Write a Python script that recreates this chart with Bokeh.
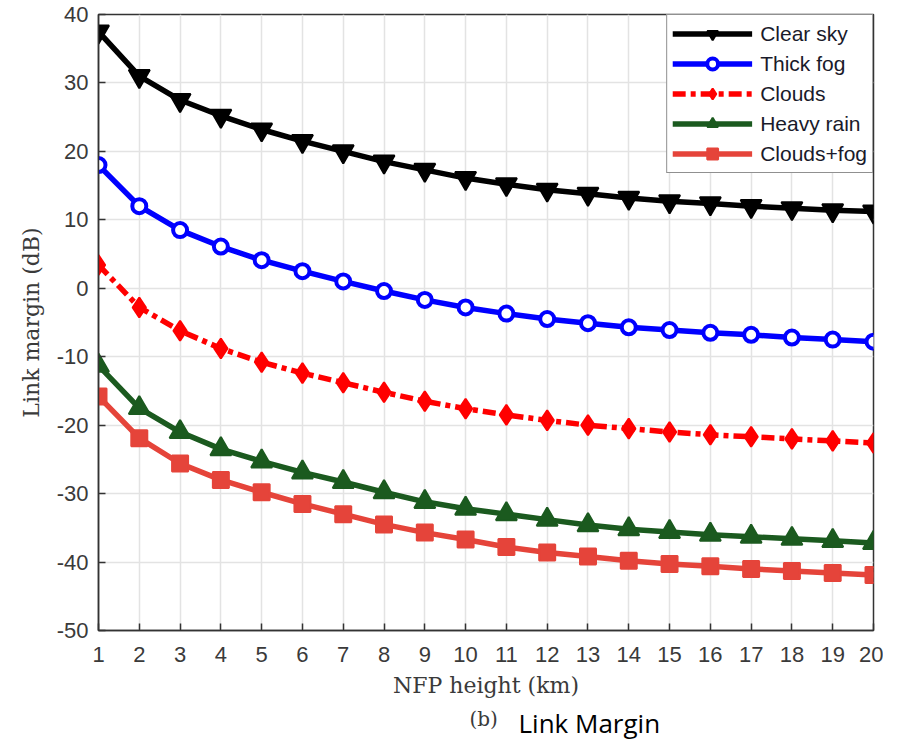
from bokeh.plotting import figure
from bokeh.models import Range1d, FixedTicker, Legend, LegendItem, Label
from bokeh.layouts import column
from bokeh.embed import file_html
from bokeh.resources import INLINE

heights = list(range(1, 21))
clear_sky = [37.5, 31.0, 27.5, 25.2, 23.2, 21.5, 20.0, 18.5, 17.3, 16.1, 15.2, 14.4, 13.8, 13.2, 12.7, 12.4, 12.0, 11.7, 11.4, 11.2]
thick_fog = [18.0, 12.0, 8.5, 6.1, 4.1, 2.5, 1.0, -0.4, -1.7, -2.8, -3.7, -4.5, -5.1, -5.7, -6.1, -6.5, -6.8, -7.2, -7.5, -7.8]
clouds = [3.4, -2.8, -6.2, -8.8, -10.8, -12.4, -13.8, -15.2, -16.5, -17.6, -18.5, -19.3, -20.0, -20.5, -21.0, -21.4, -21.7, -22.0, -22.3, -22.6]
heavy_rain = [-11.3, -17.5, -21.0, -23.5, -25.3, -26.9, -28.3, -29.8, -31.2, -32.2, -33.0, -33.8, -34.6, -35.2, -35.6, -36.0, -36.3, -36.6, -36.9, -37.2]
clouds_fog = [-15.8, -21.9, -25.6, -28.0, -29.8, -31.5, -33.0, -34.5, -35.7, -36.7, -37.8, -38.6, -39.2, -39.8, -40.3, -40.6, -41.0, -41.3, -41.6, -41.9]
y_ticks = [-50, -40, -30, -20, -10, 0, 10, 20, 30, 40]
caption_tag = "(b)"
caption_text = "Link Margin"

tick_font = "Liberation Sans"
serif_font = "DejaVu Serif"
tick_color = "#3a3a3a"

p = figure(width=883, height=710, output_backend="svg", toolbar_location=None,
           x_range=Range1d(1, 20), y_range=Range1d(-50, 40),
           min_border_left=98, min_border_right=10, min_border_top=14, min_border_bottom=80,
           x_axis_label="NFP height (km)", y_axis_label="Link margin (dB)")
p.outline_line_color = "#333333"
p.outline_line_width = 1.5
p.background_fill_color = "white"
p.border_fill_color = "white"

p.xaxis.ticker = FixedTicker(ticks=heights)
p.yaxis.ticker = FixedTicker(ticks=y_ticks)
p.yaxis.major_label_overrides = {t: str(t) for t in y_ticks}
for ax in [p.xaxis[0], p.yaxis[0]]:
    ax.major_tick_in = 7
    ax.major_tick_out = 0
    ax.minor_tick_in = 0
    ax.minor_tick_out = 0
    ax.axis_line_color = "#333333"
    ax.axis_line_width = 1.5
    ax.major_tick_line_color = "#333333"
    ax.major_tick_line_width = 1.5
    ax.major_label_text_font = tick_font
    ax.major_label_text_font_size = "22px"
    ax.major_label_text_color = tick_color
    ax.axis_label_text_font = serif_font
    ax.axis_label_text_font_size = "22px"
    ax.axis_label_text_font_style = "normal"
    ax.axis_label_text_color = "#3a3a3a"
p.xaxis.major_label_standoff = 16
p.xaxis.axis_label_standoff = 8
p.yaxis.major_label_standoff = 10
p.yaxis.axis_label_standoff = 10

p.xgrid.grid_line_color = "#e3e3e3"
p.ygrid.grid_line_color = "#e3e3e3"
p.xgrid.grid_line_width = 1.5
p.ygrid.grid_line_width = 1.5

items = []

l1 = p.line(heights, clear_sky, line_color="black", line_width=5.5)
m1 = p.scatter(heights, clear_sky, marker="inverted_triangle", size=21, line_color="black", line_width=2, fill_color="black")
items.append(LegendItem(label="Clear sky", renderers=[l1, m1]))

l2 = p.line(heights, thick_fog, line_color="#0000ff", line_width=5.5)
m2 = p.scatter(heights, thick_fog, marker="circle", size=14, line_color="#0000ff", line_width=4, fill_color="white")
items.append(LegendItem(label="Thick fog", renderers=[l2, m2]))

l3 = p.line(heights, clouds, line_color="#ff0000", line_width=5.5, line_dash="13 5 5 5")
m3 = p.scatter(heights, clouds, marker="diamond", size=20, line_color="#ff0000", line_width=2, fill_color="#ff0000")
items.append(LegendItem(label="Clouds", renderers=[l3, m3]))

l4 = p.line(heights, heavy_rain, line_color="#1b5a1f", line_width=5.5)
m4 = p.scatter(heights, heavy_rain, marker="triangle", size=21, line_color="#1b5a1f", line_width=2, fill_color="#1b5a1f")
items.append(LegendItem(label="Heavy rain", renderers=[l4, m4]))

l5 = p.line(heights, clouds_fog, line_color="#e5443a", line_width=5.5)
m5 = p.scatter(heights, clouds_fog, marker="square", size=16, line_color="#e5443a", line_width=2, fill_color="#e5443a")
items.append(LegendItem(label="Clouds+fog", renderers=[l5, m5]))

legend = Legend(items=items, location="top_right")
legend.margin = 0
legend.padding = 5
legend.spacing = 3
legend.glyph_width = 80
legend.glyph_height = 27
legend.label_standoff = 8
legend.label_text_font = tick_font
legend.label_text_font_size = "21px"
legend.label_text_color = "#1a1a2a"
legend.border_line_color = "#222222"
legend.border_line_width = 1.5
legend.background_fill_alpha = 1.0
p.add_layout(legend, "center")

# caption strip below the chart, frame aligned with the main frame
cap = figure(width=883, height=30, output_backend="svg", toolbar_location=None,
             x_range=Range1d(98, 873), y_range=Range1d(0, 30),
             x_axis_type=None, y_axis_type=None,
             min_border_left=98, min_border_right=10, min_border_top=0, min_border_bottom=0)
cap.outline_line_color = None
cap.grid.visible = False
cap.background_fill_color = "white"
cap.border_fill_color = "white"
cap.add_layout(Label(x=469, y=22, text=caption_tag, text_font=serif_font, text_align="left",
                     text_font_size="20px", text_color="#3a3a3a", text_baseline="alphabetic"))
cap.add_layout(Label(x=518, y=18, text=caption_text, text_font="Open Sans", text_align="left",
                     text_font_size="26px", text_color="black", text_baseline="alphabetic"))

layout = column(p, cap, spacing=0)
open("out.html", "w").write(file_html(layout, INLINE))
